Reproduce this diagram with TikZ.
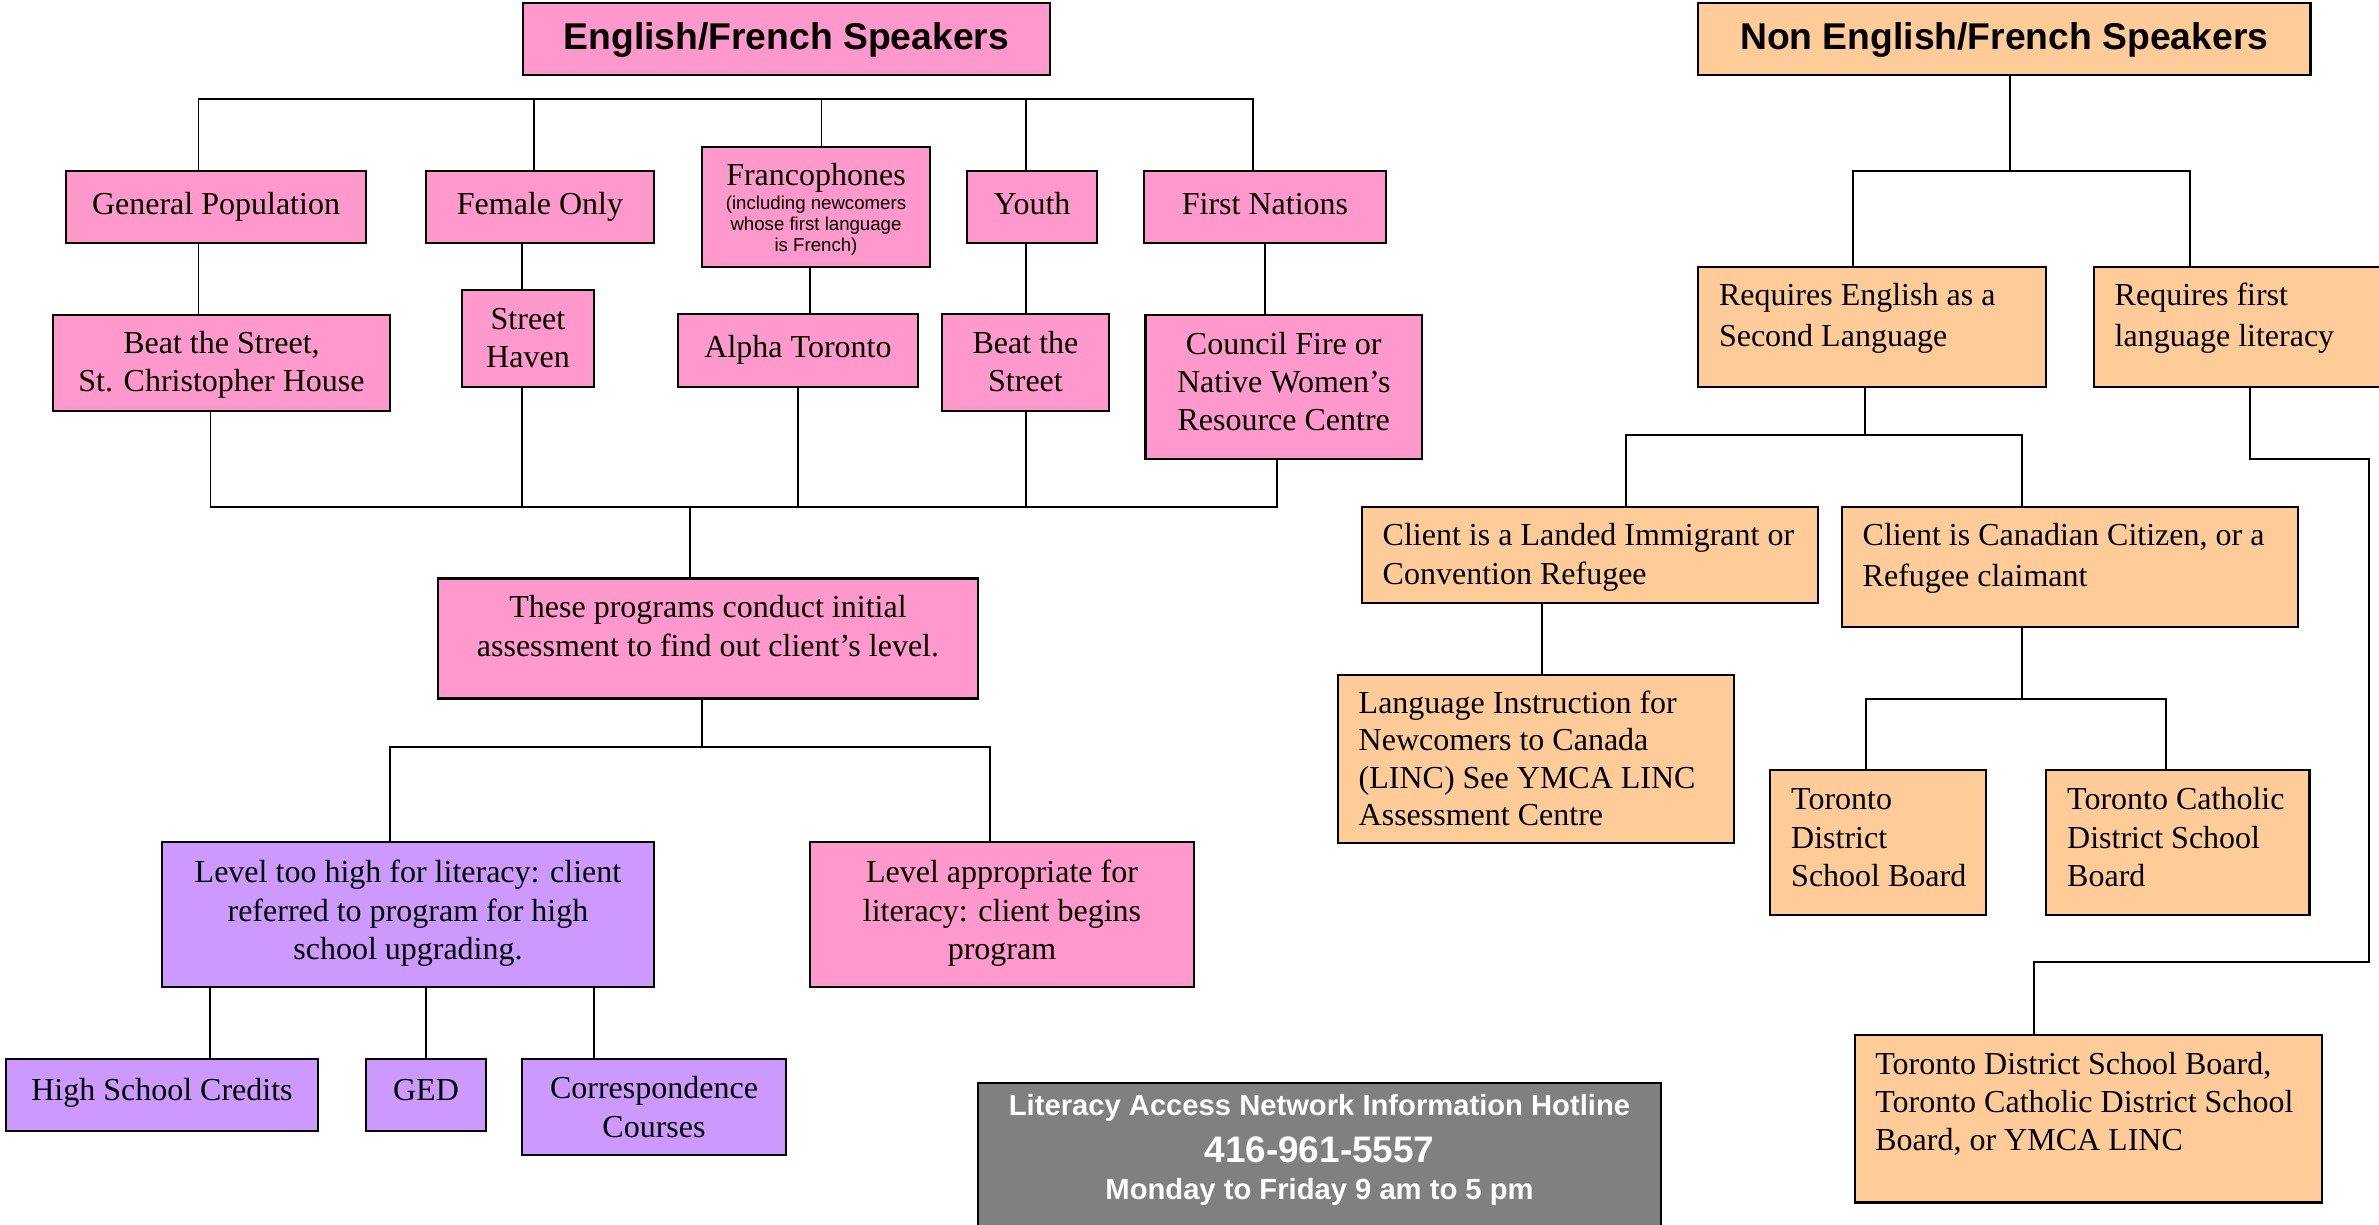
\documentclass[tikz,border=0pt]{standalone}
\usepackage{fontspec}
\setmainfont{Liberation Serif}
\setsansfont{Liberation Sans}
\definecolor{pinkc}{HTML}{FF99CC}
\definecolor{orangec}{HTML}{FFCC99}
\definecolor{purplec}{HTML}{CC99FF}
\definecolor{grayc}{HTML}{808080}
\newcommand\serifsz{\fontsize{9.1}{10.9}\selectfont}
\newcommand\smallsf{\sffamily\fontsize{5.3}{6}\selectfont}
% box: name, style, x1, y1, x2, y2 (pixel coordinates, y downwards)
\newcommand\mybox[6]{\node[#2, minimum width={(#5-#3)*0.01cm}, minimum height={(#6-#4)*0.01cm}] (#1) at ({(#3+#5)/2},{(#4+#6)/2}) {};}
% left aligned text: name, x, first baseline, text
\newcommand\mytext[4]{\node[txt] (#1) at (#2,{#3-28.12}) {\rule{0pt}{8pt}#4};}
% centred text: name, centre x, first baseline, text
\newcommand\ctext[4]{\node[ctxt] (#1) at (#2,{#3-28.12}) {\rule{0pt}{8pt}#4};}
\tikzset{
  box/.style={draw, line width=0.6pt, inner sep=0pt, outer sep=0pt},
  pinkbox/.style={box, fill=pinkc},
  orangebox/.style={box, fill=orangec},
  purplebox/.style={box, fill=purplec},
  graybox/.style={box, fill=grayc},
  ttxt/.style={inner sep=0pt, anchor=base, font=\sffamily\bfseries\fontsize{10.6}{12}\selectfont},
  txt/.style={inner sep=0pt, anchor=north west, align=left, font=\serifsz},
  ctxt/.style={inner sep=0pt, anchor=north, align=center, font=\serifsz},
  hottxt/.style={inner sep=0pt, anchor=north, align=center, text=white, font=\sffamily\bfseries\fontsize{8.3}{10}\selectfont},
  link/.style={line width=0.56pt}
}
\begin{document}
\begin{tikzpicture}[x=0.01cm, y=-0.01cm]
\useasboundingbox (0,0) rectangle (2379,1225);
\clip (0,0) rectangle (2379,1225);
\fill[white] (0,0) rectangle (2379,1225);

% ---- left tree (English/French) ----
\mybox{EF}{pinkbox}{522.6}{3}{1050}{75}
\mybox{GP}{pinkbox}{66}{171}{366}{243}
\mybox{FO}{pinkbox}{426}{171}{654}{243}
\mybox{FR}{pinkbox}{702}{147}{930}{267}
\mybox{YO}{pinkbox}{967}{171}{1097}{243}
\mybox{FN}{pinkbox}{1144}{171}{1386}{243}
\mybox{BS1}{pinkbox}{53}{315}{390}{411}
\mybox{SH}{pinkbox}{462}{290}{594}{387}
\mybox{AT}{pinkbox}{678}{314}{918}{387}
\mybox{BS2}{pinkbox}{942}{314}{1109}{411}
\mybox{CF}{pinkbox}{1145.5}{315}{1422}{459}
\mybox{AS}{pinkbox}{438}{578.5}{978}{698.5}
\mybox{LH}{purplebox}{162}{842}{654}{987}
\mybox{LA}{pinkbox}{810}{842}{1194}{987}
\mybox{HSC}{purplebox}{6}{1059}{318}{1131}
\mybox{GED}{purplebox}{366}{1059}{486}{1131}
\mybox{CC}{purplebox}{522}{1059}{786}{1155}

\node[ttxt] (EFt) at (786.3,50) {English/French Speakers};
\ctext{GPt}{216}{213.3}{General Population}
\ctext{FOt}{540}{213.3}{Female Only}
\ctext{FRt}{816}{185}{Francophones\\[-4.27pt]{\smallsf (including newcomers}\\[-4.93pt]{\smallsf whose first language}\\[-4.93pt]{\smallsf is French)}}
\ctext{YOt}{1032}{213.3}{Youth}
\ctext{FNt}{1265}{213.3}{First Nations}
\ctext{BS1t}{221.5}{352.7}{Beat the Street,\\St. Christopher House}
\ctext{SHt}{528}{328.3}{Street\\Haven}
\ctext{ATt}{798}{356.7}{Alpha Toronto}
\ctext{BS2t}{1025.5}{352.3}{Beat the\\Street}
\ctext{CFt}{1283.75}{353.3}{Council Fire or\\Native Women’s\\Resource Centre}
\ctext{ASt}{708}{617}{These programs conduct initial\\assessment to find out client’s level.}
\ctext{LHt}{408}{882}{Level too high for literacy: client\\referred to program for high\\school upgrading.}
\ctext{LAt}{1002}{882}{Level appropriate for\\literacy: client begins\\program}
\ctext{HSCt}{162}{1100}{High School Credits}
\ctext{GEDt}{426}{1100}{GED}
\ctext{CCt}{654}{1098}{Correspondence\\Courses}

% ---- right tree (Non English/French) ----
\mybox{NE}{orangebox}{1698}{3}{2310.5}{75}
\mybox{RE}{orangebox}{1698}{267}{2046}{387}
\mybox{RF}{orangebox}{2094}{267}{2395}{387}
\mybox{LI}{orangebox}{1362}{507}{1818}{603}
\mybox{CA}{orangebox}{1842}{507}{2298}{627}
\mybox{LINC}{orangebox}{1338}{675}{1734}{843}
\mybox{TDSB}{orangebox}{1770}{770}{1986}{915}
\mybox{TCDSB}{orangebox}{2046}{770}{2309.5}{915}
\mybox{FINAL}{orangebox}{1854.6}{1035}{2322}{1202.5}

\node[ttxt] (NEt) at (2004.25,50) {Non English/French Speakers};
\mytext{REt}{1718.3}{305}{Requires English as a\\[0.76pt]Second Language}
\mytext{RFt}{2114}{305}{Requires first\\[0.76pt]language literacy}
\mytext{LIt}{1382}{545}{Client is a Landed Immigrant or\\Convention Refugee}
\mytext{CAt}{1862}{545}{Client is Canadian Citizen, or a\\[0.8pt]Refugee claimant}
\mytext{LINCt}{1358}{712.5}{Language Instruction for\\[-0.25pt]Newcomers to Canada\\[-0.25pt](LINC) See YMCA LINC\\[-0.25pt]Assessment Centre}
\mytext{TDSBt}{1790.5}{809}{Toronto\\District\\School Board}
\mytext{TCDSBt}{2066.5}{809}{Toronto Catholic\\District School\\Board}
\mytext{FINALt}{1874.6}{1073.5}{Toronto District School Board,\\Toronto Catholic District School\\Board, or YMCA LINC}

% ---- hotline ----
\mybox{HOT}{graybox}{978}{1083}{1661}{1240}
\node[hottxt] (HOTt) at (1319.5,{1115-28.12}) {\rule{0pt}{8pt}Literacy Access Network Information Hotline\\[3.3pt]{\fontsize{10.5}{10}\selectfont 416-961-5557}\\[0.4pt]Monday to Friday 9 am to 5 pm};

% ---- connectors, left ----
\coordinate (tA) at (198.5,99);
\coordinate (tB) at (533.9,99);
\coordinate (tC) at (821.5,99);
\coordinate (tD) at (1025.6,99);
\coordinate (tE) at (1253.4,99);
\draw[link] (GP.north -| tA) -- (tA) -- (tE) -- (FN.north -| tE);
\draw[link] (tB) -- (FO.north -| tB);
\draw[link] (tC) -- (FR.north -| tC);
\draw[link] (tD) -- (YO.north -| tD);

\coordinate (sB) at (522,0);
\coordinate (sC) at (810,0);
\coordinate (sE) at (1265.4,0);
\draw[link] (GP.south -| tA) -- (BS1.north -| tA);
\draw[link] (FO.south -| sB) -- (SH.north -| sB);
\draw[link] (FR.south -| sC) -- (AT.north -| sC);
\draw[link] (YO.south -| tD) -- (BS2.north -| tD);
\draw[link] (FN.south -| sE) -- (CF.north -| sE);

\coordinate (uA) at (210.5,506.7);
\coordinate (uB) at (522,506.7);
\coordinate (uC) at (797.6,506.7);
\coordinate (uD) at (1025.6,506.7);
\coordinate (uE) at (1277.4,506.7);
\coordinate (uM) at (689.7,506.7);
\draw[link] (BS1.south -| uA) -- (uA) -- (uE) -- (CF.south -| uE);
\draw[link] (SH.south -| uB) -- (uB);
\draw[link] (AT.south -| uC) -- (uC);
\draw[link] (BS2.south -| uD) -- (uD);
\draw[link] (uM) -- (AS.north -| uM);

\coordinate (vM) at (702.2,747);
\coordinate (vA) at (389.7,747);
\coordinate (vB) at (989.9,747);
\draw[link] (AS.south -| vM) -- (vM);
\draw[link] (LH.north -| vA) -- (vA) -- (vB) -- (LA.north -| vB);

\coordinate (wA) at (209.8,0);
\coordinate (wB) at (426.1,0);
\coordinate (wC) at (593.6,0);
\draw[link] (LH.south -| wA) -- (HSC.north -| wA);
\draw[link] (LH.south -| wB) -- (GED.north -| wB);
\draw[link] (LH.south -| wC) -- (CC.north -| wC);

% ---- connectors, right ----
\coordinate (rM) at (2009.8,171);
\coordinate (rA) at (1853.4,171);
\coordinate (rB) at (2189.5,171);
\draw[link] (NE.south -| rM) -- (rM);
\draw[link] (RE.north -| rA) -- (rA) -- (rB) -- (RF.north -| rB);

\coordinate (qM) at (1865.4,434.7);
\coordinate (qA) at (1625.6,434.7);
\coordinate (qB) at (2021.8,434.7);
\draw[link] (RE.south -| qM) -- (qM);
\draw[link] (LI.north -| qA) -- (qA) -- (qB) -- (CA.north -| qB);

\coordinate (pA) at (1541.5,0);
\draw[link] (LI.south -| pA) -- (LINC.north -| pA);

\coordinate (oM) at (2021.8,699);
\coordinate (oA) at (1865.6,699);
\coordinate (oB) at (2165.7,699);
\draw[link] (CA.south -| oM) -- (oM);
\draw[link] (TDSB.north -| oA) -- (oA) -- (oB) -- (TCDSB.north -| oB);

\coordinate (nA) at (2249.6,458.7);
\coordinate (nB) at (2369.4,458.7);
\coordinate (nC) at (2369.4,962.4);
\coordinate (nD) at (2033.5,962.4);
\draw[link] (RF.south -| nA) -- (nA) -- (nB) -- (nC) -- (nD) -- (FINAL.north -| nD);
\end{tikzpicture}
\end{document}
